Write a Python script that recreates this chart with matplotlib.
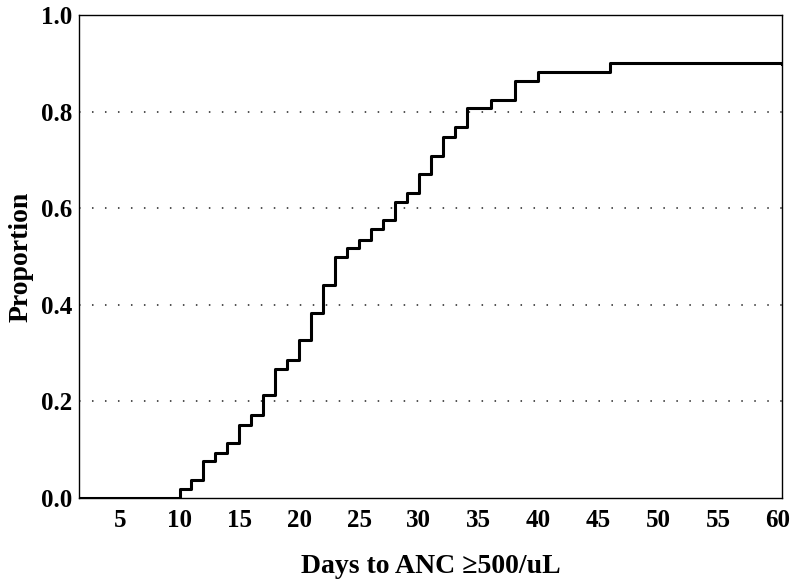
import matplotlib
matplotlib.use("Agg")
import matplotlib.pyplot as plt

# Step data: day at which cumulative proportion changes, and the new level
days = [0, 10, 11, 12, 13, 14, 15, 16, 17, 18, 19, 20, 21, 22, 23, 24, 25, 26,
        27, 28, 29, 30, 31, 32, 33, 34, 36, 38, 40, 46, 60.35]
proportion = [0.0, 0.019, 0.037, 0.077, 0.093, 0.114, 0.151, 0.172, 0.214,
              0.268, 0.286, 0.327, 0.384, 0.440, 0.498, 0.517, 0.535, 0.556,
              0.575, 0.612, 0.631, 0.670, 0.709, 0.747, 0.768, 0.807, 0.824,
              0.863, 0.882, 0.900, 0.898]

x_ticks = [5, 10, 15, 20, 25, 30, 35, 40, 45, 50, 55, 60]
y_ticks = [0.0, 0.2, 0.4, 0.6, 0.8, 1.0]
grid_levels = [0.2, 0.4, 0.6, 0.8]

plt.rcParams['font.family'] = ['Liberation Serif', 'DejaVu Serif']

fig = plt.figure(figsize=(7.93, 5.80), dpi=100)
ax = fig.add_axes([79/793, 82/580, (782-79)/793, (498-15)/580])

for g in grid_levels:
    ax.axhline(g, color='#222222', linewidth=1.1, linestyle=(0, (1, 7.5)), zorder=1)

ax.step(days, proportion, where='post', color='black', linewidth=2.2, zorder=3)

ax.set_xlim(1.6, 60.35)
ax.set_ylim(0.0, 1.0)
ax.set_xticks(x_ticks)
ax.set_yticks(y_ticks)
ax.set_xticklabels([str(t) for t in x_ticks], fontsize=18, fontweight='bold')
ax.set_yticklabels([f"{t:.1f}" for t in y_ticks], fontsize=18, fontweight='bold')
ax.tick_params(axis='x', length=0, pad=8)
ax.tick_params(axis='y', length=0, pad=5)

for s in ax.spines.values():
    s.set_linewidth(1.0)
    s.set_color('black')

ax.set_xlabel("Days to ANC \u2265500/uL", fontsize=20, fontweight='bold', labelpad=16)
ax.set_ylabel("Proportion", fontsize=20, fontweight='bold', labelpad=5)

fig.savefig("out.png", dpi=100)
